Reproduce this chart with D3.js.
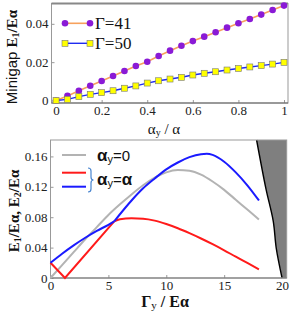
<!DOCTYPE html>
<html>
<head>
<meta charset="utf-8">
<script src="https://cdn.jsdelivr.net/npm/d3@7"></script>
<style>
body { margin: 0; background: #fff; }
svg { display: block; }
</style>
</head>
<body>
<div id="chart"></div>
<script>
// top panel: minigap vs alpha_y / alpha
let alphaY = [0, 0.05, 0.1, 0.15, 0.2, 0.25, 0.3, 0.35, 0.4, 0.45, 0.5, 0.55, 0.6, 0.65, 0.7, 0.75, 0.8, 0.85, 0.9, 0.95, 1];
let gap41 = [0, 0.0024, 0.0051, 0.0077, 0.0102, 0.0128, 0.0154, 0.0180, 0.0202, 0.0232, 0.0260, 0.0286, 0.0310, 0.0333, 0.0356, 0.0380, 0.0403, 0.0425, 0.0448, 0.0472, 0.0495];
let gap50 = [0, 0.0006, 0.0020, 0.0032, 0.0041, 0.0051, 0.0064, 0.0076, 0.0091, 0.0103, 0.0112, 0.0121, 0.0133, 0.0142, 0.0150, 0.0159, 0.0167, 0.0175, 0.0182, 0.0190, 0.0199];
let topXTicks = [0, 0.2, 0.4, 0.6, 0.8, 1];
let topYTicks = [0, 0.02, 0.04];

// bottom panel: E1, E2 vs Gamma_y
let grayX = [0, 1, 2, 3, 4, 5, 6, 7, 8, 9, 10, 11, 12, 13, 14, 15, 16, 17, 18];
let grayY = [0, 0.017, 0.034, 0.051, 0.067, 0.083, 0.097, 0.110, 0.122, 0.132, 0.139, 0.142, 0.141, 0.136, 0.127, 0.116, 0.103, 0.090, 0.077];
let blueX1 = [0, 1, 2, 3, 4, 5, 5.5];
let blueY1 = [0.020, 0.032, 0.043, 0.053, 0.062, 0.070, 0.0745];
let blueX2 = [5.5, 7, 8, 9, 10, 11, 12, 13, 13.5, 14, 15, 16, 17, 18];
let blueY2 = [0.0745, 0.102, 0.118, 0.131, 0.143, 0.152, 0.159, 0.163, 0.1635, 0.162, 0.153, 0.139, 0.122, 0.102];
let redX1 = [0, 1.25, 5.5];
let redY1 = [0.020, 0, 0.0745];
let redX2 = [5.5, 6, 7, 8, 9, 10, 11, 12, 13, 14, 15, 16, 17, 18];
let redY2 = [0.0745, 0.0772, 0.0785, 0.078, 0.0755, 0.071, 0.0655, 0.059, 0.052, 0.0445, 0.0365, 0.028, 0.0198, 0.0115];
let edgeX = [17.8, 18.6, 19.24, 19.5, 20];
let edgeY = [0.1816, 0.118, 0.0746, 0.039, 0];
let botXTicks = [0, 5, 10, 15, 20];
let botYTicks = [0, 0.04, 0.08, 0.12, 0.16];

let svg = d3.select("#chart").append("svg")
    .attr("width", 291)
    .attr("height", 312);

let serif = "'Liberation Serif', 'Times New Roman', serif";
let sans = "'Liberation Sans', Arial, sans-serif";

function zip(xs, ys) {
    return xs.map(function (x, i) { return [x, ys[i]]; });
}

// axis styling, Mathematica-like frame ticks
function styleAxis(g) {
    g.attr("font-family", serif).attr("font-size", 13);
    g.select(".domain").remove();
    g.selectAll("line").attr("stroke", "#999");
    g.selectAll("text").attr("font-family", serif).attr("font-size", 13).attr("fill", "#222");
}

// ---------- top panel ----------
let tx = d3.scaleLinear().domain([-0.02, 1.0175]).range([51.5, 288]);
let ty = d3.scaleLinear().domain([-0.0013, 0.0506]).range([103, 3.5]);

let topG = svg.append("g");

topG.append("g")
    .attr("transform", "translate(0,103)")
    .call(d3.axisBottom(tx).tickValues(topXTicks).tickSize(-3).tickPadding(3)
        .tickFormat(function (d) { return d === 0 || d === 1 ? d : d.toFixed(1); }))
    .call(styleAxis);

topG.append("g")
    .attr("transform", "translate(51.5,0)")
    .call(d3.axisLeft(ty).tickValues(topYTicks).tickSize(-3).tickPadding(3)
        .tickFormat(function (d) { return d === 0 ? "0" : d.toFixed(2); }))
    .call(styleAxis);

topG.append("rect")
    .attr("x", 51.5).attr("y", 3.5)
    .attr("width", 236.5).attr("height", 99.5)
    .attr("fill", "none").attr("stroke", "#999").attr("stroke-width", 1);
topG.append("line")
    .attr("x1", 51.5).attr("x2", 288).attr("y1", 3.5).attr("y2", 3.5)
    .attr("stroke", "#888").attr("stroke-width", 2);
topG.append("line")
    .attr("x1", 51.5).attr("x2", 288).attr("y1", 103).attr("y2", 103)
    .attr("stroke", "#666").attr("stroke-width", 1.2);

let tline = d3.line().x(function (d) { return tx(d[0]); }).y(function (d) { return ty(d[1]); });

topG.append("path").datum(zip(alphaY, gap41))
    .attr("d", tline).attr("fill", "none").attr("stroke", "#f7a15c").attr("stroke-width", 1.6);
topG.append("path").datum(zip(alphaY, gap50))
    .attr("d", tline).attr("fill", "none").attr("stroke", "#1f2cf0").attr("stroke-width", 1.4);

topG.selectAll(".c41").data(zip(alphaY, gap41)).enter().append("circle")
    .attr("cx", function (d) { return tx(d[0]); })
    .attr("cy", function (d) { return ty(d[1]); })
    .attr("r", 3.3).attr("fill", "#8a1ad6");

topG.selectAll(".s50").data(zip(alphaY, gap50)).enter().append("rect")
    .attr("x", function (d) { return tx(d[0]) - 3; })
    .attr("y", function (d) { return ty(d[1]) - 3; })
    .attr("width", 6).attr("height", 6)
    .attr("fill", "#ffff00").attr("stroke", "#777").attr("stroke-width", 0.6);

// legend (top)
topG.append("line").attr("x1", 65).attr("x2", 90).attr("y1", 23.3).attr("y2", 23.3)
    .attr("stroke", "#f7a15c").attr("stroke-width", 1.6);
[65, 90].forEach(function (x) {
    topG.append("circle").attr("cx", x).attr("cy", 23.3).attr("r", 3.3).attr("fill", "#8a1ad6");
});
topG.append("text").attr("x", 95).attr("y", 29).attr("font-family", serif).attr("font-size", 17)
    .attr("fill", "#111").text("Γ=41");
topG.append("line").attr("x1", 65).attr("x2", 90).attr("y1", 43.3).attr("y2", 43.3)
    .attr("stroke", "#1f2cf0").attr("stroke-width", 1.4);
[65, 90].forEach(function (x) {
    topG.append("rect").attr("x", x - 3).attr("y", 40.3).attr("width", 6).attr("height", 6)
        .attr("fill", "#ffff00").attr("stroke", "#777").attr("stroke-width", 0.6);
});
topG.append("text").attr("x", 95).attr("y", 49).attr("font-family", serif).attr("font-size", 17)
    .attr("fill", "#111").text("Γ=50");

// axis labels (top)
let tXLab = topG.append("text").attr("x", 164).attr("y", 134)
    .attr("text-anchor", "middle").attr("font-family", serif).attr("font-size", 15).attr("fill", "#111");
tXLab.append("tspan").text("α");
tXLab.append("tspan").attr("font-size", 10).attr("dy", 2).text("y");
tXLab.append("tspan").attr("dy", -2).text(" / α");

let tYLab = topG.append("text")
    .attr("transform", "translate(17,57) rotate(-90)")
    .attr("text-anchor", "middle").attr("fill", "#111");
tYLab.append("tspan").attr("font-family", sans).attr("font-size", 15).text("Minigap ");
tYLab.append("tspan").attr("font-family", serif).attr("font-weight", "bold").attr("font-size", 15).text("E");
tYLab.append("tspan").attr("font-family", serif).attr("font-weight", "bold").attr("font-size", 10).attr("dy", 2).text("1");
tYLab.append("tspan").attr("font-family", serif).attr("font-weight", "bold").attr("font-size", 15).attr("dy", -2).text("/Eα");

// ---------- bottom panel ----------
let bx = d3.scaleLinear().domain([0, 20.4]).range([50.5, 286.7]);
let by = d3.scaleLinear().domain([0, 0.1816]).range([278, 140]);

let botG = svg.append("g");

botG.append("g")
    .attr("transform", "translate(0,278)")
    .call(d3.axisBottom(bx).tickValues(botXTicks).tickSize(-3).tickPadding(3))
    .call(styleAxis);

botG.append("g")
    .attr("transform", "translate(50.5,0)")
    .call(d3.axisLeft(by).tickValues(botYTicks).tickSize(-3).tickPadding(3)
        .tickFormat(function (d) { return d === 0 ? "0" : d.toFixed(2); }))
    .call(styleAxis);

// shaded region on the right
let edge = zip(edgeX, edgeY);
let shade = edge.concat([[20.4, 0], [20.4, 0.1816]]);
botG.append("path")
    .attr("d", "M" + shade.map(function (d) { return bx(d[0]) + "," + by(d[1]); }).join("L") + "Z")
    .attr("fill", "#7f7f7f");

let bline = d3.line().x(function (d) { return bx(d[0]); }).y(function (d) { return by(d[1]); });
let bsmooth = d3.line().x(function (d) { return bx(d[0]); }).y(function (d) { return by(d[1]); })
    .curve(d3.curveMonotoneX);

botG.append("path").datum(edge)
    .attr("d", d3.line().x(function (d) { return bx(d[0]); }).y(function (d) { return by(d[1]); })
        .curve(d3.curveCatmullRom))
    .attr("fill", "none").attr("stroke", "#000").attr("stroke-width", 1.4);

botG.append("rect")
    .attr("x", 50.5).attr("y", 140)
    .attr("width", 236.2).attr("height", 138)
    .attr("fill", "none").attr("stroke", "#999").attr("stroke-width", 1);
botG.append("line")
    .attr("x1", 50.5).attr("x2", 286.7).attr("y1", 278).attr("y2", 278)
    .attr("stroke", "#777").attr("stroke-width", 1);

botG.append("path").datum(zip(grayX, grayY))
    .attr("d", bsmooth).attr("fill", "none").attr("stroke", "#b3b3b3").attr("stroke-width", 2);
botG.append("path").datum(zip(redX1, redY1))
    .attr("d", bline).attr("fill", "none").attr("stroke", "#ff1a1a").attr("stroke-width", 2);
botG.append("path").datum(zip(redX2, redY2))
    .attr("d", bsmooth).attr("fill", "none").attr("stroke", "#ff1a1a").attr("stroke-width", 2);
botG.append("path").datum(zip(blueX1, blueY1))
    .attr("d", bsmooth).attr("fill", "none").attr("stroke", "#1a1aff").attr("stroke-width", 2);
botG.append("path").datum(zip(blueX2, blueY2))
    .attr("d", bsmooth).attr("fill", "none").attr("stroke", "#1a1aff").attr("stroke-width", 2);

// legend (bottom)
botG.append("line").attr("x1", 62).attr("x2", 86).attr("y1", 155).attr("y2", 155)
    .attr("stroke", "#b3b3b3").attr("stroke-width", 2);
botG.append("line").attr("x1", 62).attr("x2", 86).attr("y1", 172.7).attr("y2", 172.7)
    .attr("stroke", "#ff1a1a").attr("stroke-width", 2);
botG.append("line").attr("x1", 62).attr("x2", 86).attr("y1", 186.7).attr("y2", 186.7)
    .attr("stroke", "#1a1aff").attr("stroke-width", 2);
botG.append("path")
    .attr("d", "M88,168 Q91,168 91,171 L91,177 Q91,180 93.5,180 Q91,180 91,183 L91,189 Q91,192 88,192")
    .attr("fill", "none").attr("stroke", "#4a86d0").attr("stroke-width", 1.2);

function alphaLabel(y, tail, tailAlpha) {
    let t = botG.append("text").attr("x", 97).attr("y", y).attr("fill", "#111");
    t.append("tspan").attr("font-family", sans).attr("font-weight", "bold").attr("font-size", 17).text("α");
    t.append("tspan").attr("font-family", sans).attr("font-size", 11).attr("dy", 2).text("y");
    t.append("tspan").attr("font-family", sans).attr("font-size", 15).attr("dy", -2).text("=");
    t.append("tspan").attr("font-family", sans).attr("font-weight", tailAlpha ? "bold" : "normal")
        .attr("font-size", tailAlpha ? 17 : 15).text(tail);
}
alphaLabel(160.5, "0", false);
alphaLabel(185, "α", true);

// axis labels (bottom)
let bXLab = botG.append("text").attr("x", 165).attr("y", 307)
    .attr("text-anchor", "middle").attr("font-family", serif).attr("font-weight", "bold")
    .attr("font-size", 16).attr("fill", "#111");
bXLab.append("tspan").text("Γ");
bXLab.append("tspan").attr("font-size", 11).attr("font-weight", "normal").attr("dy", 2).text("y");
bXLab.append("tspan").attr("dy", -2).text(" / Eα");

let bYLab = botG.append("text")
    .attr("transform", "translate(19,211) rotate(-90)")
    .attr("text-anchor", "middle").attr("font-family", serif).attr("font-weight", "bold")
    .attr("font-size", 15).attr("fill", "#111");
bYLab.append("tspan").text("E");
bYLab.append("tspan").attr("font-size", 10).attr("dy", 2).text("1");
bYLab.append("tspan").attr("dy", -2).text("/Eα,  E");
bYLab.append("tspan").attr("font-size", 10).attr("dy", 2).text("2");
bYLab.append("tspan").attr("dy", -2).text("/Eα");
</script>
</body>
</html>
